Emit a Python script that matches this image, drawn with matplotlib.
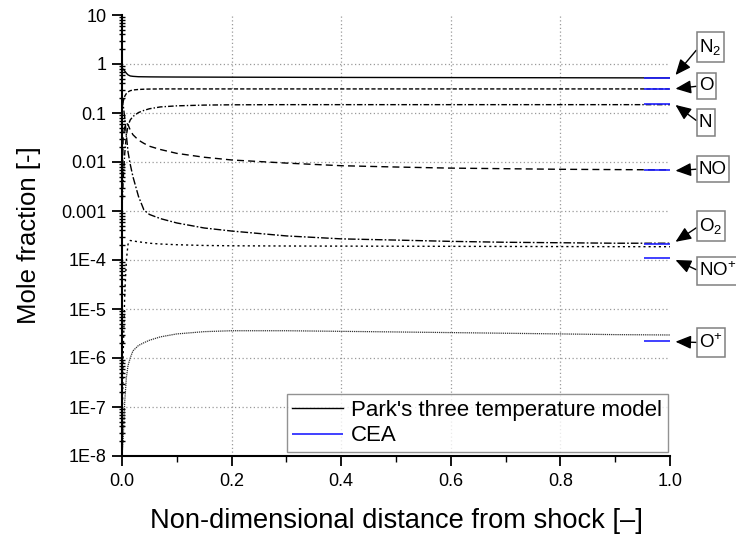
import matplotlib
matplotlib.use("Agg")
import matplotlib.pyplot as plt
from matplotlib.path import Path
from matplotlib.ticker import FixedLocator, FixedFormatter, LogLocator, MultipleLocator, FormatStrFormatter

plt.rcParams["font.family"] = ["Liberation Sans", "DejaVu Sans"]
plt.rcParams["mathtext.fontset"] = "custom"
plt.rcParams["mathtext.rm"] = "Liberation Sans"
plt.rcParams["mathtext.default"] = "regular"

# Distance behind the shock (non-dimensional)
x = [0.0, 0.002, 0.005, 0.008, 0.011, 0.015, 0.02, 0.03, 0.04, 0.05, 0.07,
     0.1, 0.15, 0.2, 0.3, 0.4, 0.5, 0.6, 0.7, 0.8, 0.9, 1.0]

# Mole fractions, Park's three temperature model
n2 = [0.80, 0.79, 0.72, 0.65, 0.60, 0.57, 0.56, 0.55, 0.548, 0.546, 0.544,
      0.542, 0.54, 0.538, 0.535, 0.532, 0.53, 0.528, 0.526, 0.524, 0.522, 0.52]
o = [0.12, 0.17, 0.22, 0.25, 0.27, 0.285, 0.295, 0.302, 0.306, 0.308, 0.31,
     0.31, 0.31, 0.31, 0.31, 0.31, 0.31, 0.31, 0.31, 0.31, 0.31, 0.31]
n = [0.001, 0.004, 0.015, 0.035, 0.055, 0.072, 0.085, 0.102, 0.113, 0.122, 0.133,
     0.14, 0.145, 0.147, 0.148, 0.148, 0.148, 0.148, 0.148, 0.148, 0.148, 0.148]
no = [0.001, 0.03, 0.055, 0.062, 0.058, 0.045, 0.036, 0.028, 0.024, 0.021, 0.018,
      0.015, 0.0125, 0.011, 0.0095, 0.0084, 0.0079, 0.0075, 0.0073, 0.0071, 0.007, 0.0069]
o2 = [0.21, 0.15, 0.08, 0.035, 0.016, 0.009, 0.005, 0.002, 0.00105, 0.00085, 0.0007,
      0.00057, 0.00045, 0.00039, 0.00031, 0.00027, 0.000255, 0.00024, 0.00023, 0.000225, 0.00022, 0.00022]
no_p = [1e-8, 1e-6, 2e-5, 1e-4, 2.1e-4, 2.5e-4, 2.45e-4, 2.35e-4, 2.28e-4, 2.2e-4, 2.12e-4,
        2.05e-4, 1.98e-4, 1.95e-4, 1.93e-4, 1.92e-4, 1.91e-4, 1.9e-4, 1.89e-4, 1.88e-4, 1.87e-4, 1.87e-4]
o_p = [1e-8, 2e-8, 1.3e-7, 4e-7, 7e-7, 1.0e-6, 1.4e-6, 1.8e-6, 2.05e-6, 2.3e-6, 2.7e-6,
       3.1e-6, 3.45e-6, 3.6e-6, 3.6e-6, 3.5e-6, 3.4e-6, 3.3e-6, 3.2e-6, 3.1e-6, 3.0e-6, 2.95e-6]

# Chemical-equilibrium (CEA) values near the wall
cea_x = [0.952, 1.0]
cea = {"N2": 0.52, "O": 0.31, "N": 0.15, "NO": 0.0069,
       "O2": 2.1e-4, "NO+": 1.12e-4, "O+": 2.23e-6}

species_labels = ["N$_2$", "O", "N", "NO", "O$_2$", "NO$^{+}$", "O$^{+}$"]
species_keys = ["N2", "O", "N", "NO", "O2", "NO+", "O+"]
arrow_tips = [0.596, 0.313, 0.146, 0.00664, 2.35e-4, 1.0e-4, 2.15e-6]
label_rows_px = [47, 86, 122.5, 169, 226, 271, 342.5]

y_ticks = [1e-8, 1e-7, 1e-6, 1e-5, 1e-4, 1e-3, 1e-2, 1e-1, 1, 10]
y_tick_labels = ["1E-8", "1E-7", "1E-6", "1E-5", "1E-4", "0.001", "0.01", "0.1", "1", "10"]


def tag_box(x0, y0, width, height, mutation_size):
    """Rectangle with a narrow side padding and a taller top/bottom padding."""
    px = 0.12 * mutation_size
    py = 0.26 * mutation_size
    x0, x1 = x0 - px, x0 + width + px
    y0, y1 = y0 - py, y0 + height + py
    return Path([(x0, y0), (x1, y0), (x1, y1), (x0, y1), (x0, y0)], closed=True)


W, H = 736, 536
fig = plt.figure(figsize=(W / 100, H / 100), dpi=100)
ax = fig.add_axes([122 / W, 1 - 456 / H, 548 / W, 441 / H])

lw = 1.0
ax.plot(x, n2, color="black", lw=lw, ls="-", label="Park's three temperature model")
ax.plot(x, o, color="black", lw=lw, ls=(0, (3, 1.5)))
ax.plot(x, n, color="black", lw=lw, ls=(0, (4, 1.5, 1, 1.5)))
ax.plot(x, no, color="black", lw=lw, ls=(0, (5, 3)))
ax.plot(x, o2, color="black", lw=lw, ls=(0, (5.5, 1.5, 1.2, 1.5)))
ax.plot(x, no_p, color="black", lw=lw, ls=(0, (1.5, 2.2)))
ax.plot(x, o_p, color="#333333", lw=0.9, ls=(0, (1, 0.7)))

for i, k in enumerate(species_keys):
    ax.plot(cea_x, [cea[k], cea[k]], color="#2020ff", lw=1.2,
            label="CEA" if i == 0 else None, solid_capstyle="butt")

ax.set_yscale("log")
ax.set_xlim(0, 1.0)
ax.set_ylim(1e-8, 10)

ax.yaxis.set_major_locator(FixedLocator(y_ticks))
ax.yaxis.set_major_formatter(FixedFormatter(y_tick_labels))
ax.yaxis.set_minor_locator(LogLocator(base=10, subs=range(2, 10), numticks=20))
ax.xaxis.set_major_locator(MultipleLocator(0.2))
ax.xaxis.set_minor_locator(MultipleLocator(0.1))
ax.xaxis.set_major_formatter(FormatStrFormatter("%.1f"))

for side in ("top", "right"):
    ax.spines[side].set_visible(False)
for side in ("left", "bottom"):
    ax.spines[side].set_linewidth(1.5)

ax.tick_params(axis="both", which="major", direction="out", length=7, width=1.3,
               labelsize=13, pad=4)
ax.tick_params(axis="x", which="major", pad=5.5)
ax.tick_params(axis="y", which="minor", direction="inout", length=5, width=1.0)
ax.tick_params(axis="x", which="minor", direction="out", length=4.5, width=1.0)

ax.grid(True, which="major", color="#9a9a9a", ls=(0, (1, 2)), lw=0.9)

ax.set_xlabel("Non-dimensional distance from shock [–]", fontsize=19.6, labelpad=13)
ax.set_ylabel("Mole fraction [-]", fontsize=18.5, labelpad=15)

leg = ax.legend(loc="lower right", bbox_to_anchor=(0.996, 0.009), borderaxespad=0,
                fontsize=16, frameon=True, fancybox=False, edgecolor="#777777",
                handlelength=2.3, handletextpad=0.35, labelspacing=0.2, borderpad=0.25)
leg.get_frame().set_linewidth(1.0)

for lab, tip, row in zip(species_labels, arrow_tips, label_rows_px):
    ax.annotate(lab, xy=(1.01, tip), xycoords=("axes fraction", "data"),
                xytext=(699, H - row), textcoords="figure pixels",
                ha="left", va="center", fontsize=13.5, annotation_clip=False,
                bbox=dict(boxstyle=tag_box, fc="white", ec="#808080", lw=1.1),
                arrowprops=dict(arrowstyle="-|>,head_length=0.7,head_width=0.3",
                                color="black", lw=1.0, relpos=(0, 0.5),
                                shrinkA=0, shrinkB=0))

# Lay out the ticks once, then drop the grid lines that would sit on the
# top edge (y = 10) and on the open right end (x = 1.0) of the axes.
fig.canvas.draw()
for tick in ax.xaxis.get_major_ticks():
    if abs(tick.get_loc() - 1.0) < 1e-9 or abs(tick.get_loc()) < 1e-9:
        tick.gridline.set_visible(False)
for tick in ax.yaxis.get_major_ticks():
    if abs(tick.get_loc() - 10) < 1e-9:
        tick.gridline.set_visible(False)

fig.savefig("out.png", dpi=100)
